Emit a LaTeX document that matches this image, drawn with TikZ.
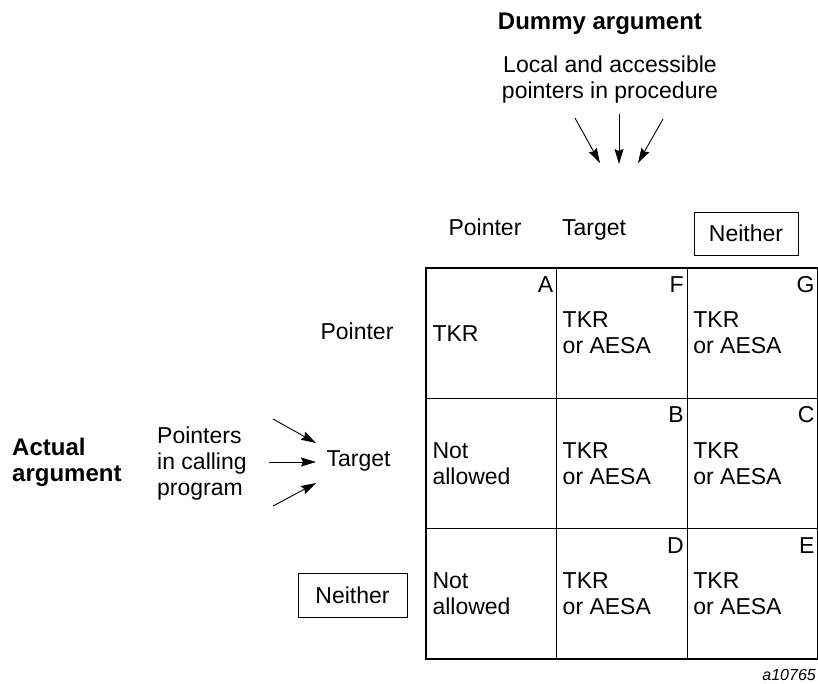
\documentclass[tikz,border=0pt]{standalone}
\usepackage{fontspec}
\setmainfont{Liberation Sans}
\usetikzlibrary{arrows.meta}
\begin{document}
\begin{tikzpicture}[x=1pt,y=-1pt,
  txt/.style={inner sep=0pt, font=\fontsize{23}{26}\selectfont, align=left},
  bold/.style={txt, font=\fontsize{24}{26}\selectfont\bfseries},
  cell/.style={draw, line width=1.3pt, minimum width=130.67pt, minimum height=130.33pt, inner sep=0pt},
  letter/.style={txt, anchor=north east},
  content/.style={txt, anchor=west},
  framed/.style={draw, line width=0.9pt, minimum width=104pt, minimum height=43pt, inner sep=0pt, font=\fontsize{23}{26}\selectfont},
  ptr/.style={line width=0.9pt, -{Stealth[length=15pt,width=9pt,inset=2pt]}}
]
\useasboundingbox (0,0) rectangle (818,683);

% column side: dummy argument
\node[bold, anchor=base] (dummy) at (600,29) {Dummy argument};
\node[txt, align=center] (localptr) at (610,80) {Local and accessible\\pointers in procedure};
\coordinate (d1s) at (575,118); \coordinate (d1e) at (600,163);
\coordinate (d2s) at (619,114); \coordinate (d2e) at (619,164);
\coordinate (d3s) at (663,119); \coordinate (d3e) at (638,163);
\draw[ptr] (d1s) -- (d1e);
\draw[ptr] (d2s) -- (d2e);
\draw[ptr] (d3s) -- (d3e);

\node[txt, anchor=base] (hdrptr) at (485,235) {Pointer};
\node[txt, anchor=base] (hdrtgt) at (594,235) {Target};
\node[framed] (hdrnei) at (746,233.5) {Neither};

% row side: actual argument
\node[bold, anchor=west] (actual) at (12,462) {Actual\\argument};
\node[txt, anchor=west] (callptr) at (157,464) {Pointers\\in calling\\program};
\coordinate (a1s) at (273,419); \coordinate (a1e) at (316,443);
\coordinate (a2s) at (269,462); \coordinate (a2e) at (316,462);
\coordinate (a3s) at (273,506); \coordinate (a3e) at (316,483);
\draw[ptr] (a1s) -- (a1e);
\draw[ptr] (a2s) -- (a2e);
\draw[ptr] (a3s) -- (a3e);

\node[txt, anchor=base] (rowptr) at (357,339) {Pointer};
\node[txt, anchor=base] (rowtgt) at (358.5,466) {Target};
\node[framed, minimum width=109pt, minimum height=44pt] (rownei) at (352.5,595) {Neither};

% the 3 x 3 table
\node[cell] (g11) at (491.33,333.17) {};
\node[cell] (g12) at (622.00,333.17) {};
\node[cell] (g13) at (752.67,333.17) {};
\node[cell] (g21) at (491.33,463.50) {};
\node[cell] (g22) at (622.00,463.50) {};
\node[cell] (g23) at (752.67,463.50) {};
\node[cell] (g31) at (491.33,593.83) {};
\node[cell] (g32) at (622.00,593.83) {};
\node[cell] (g33) at (752.67,593.83) {};

\node[letter] (la) at ([shift={(-4,9)}]g11.north east) {A};
\node[letter] (lf) at ([shift={(-4,9)}]g12.north east) {F};
\node[letter] (lg) at ([shift={(-4,9)}]g13.north east) {G};
\node[letter] (lb) at ([shift={(-4,9)}]g22.north east) {B};
\node[letter] (lc) at ([shift={(-4,9)}]g23.north east) {C};
\node[letter] (ld) at ([shift={(-4,9)}]g32.north east) {D};
\node[letter] (le) at ([shift={(-4,9)}]g33.north east) {E};

\node[content] (t11) at ([xshift=7]g11.west) {TKR};
\node[content] (t12) at ([xshift=6.5]g12.west) {TKR\\or AESA};
\node[content] (t13) at ([xshift=6.5]g13.west) {TKR\\or AESA};
\node[content] (t21) at ([xshift=7]g21.west) {Not\\allowed};
\node[content] (t22) at ([xshift=6.5]g22.west) {TKR\\or AESA};
\node[content] (t23) at ([xshift=6.5]g23.west) {TKR\\or AESA};
\node[content] (t31) at ([xshift=7]g31.west) {Not\\allowed};
\node[content] (t32) at ([xshift=6.5]g32.west) {TKR\\or AESA};
\node[content] (t33) at ([xshift=6.5]g33.west) {TKR\\or AESA};

\node[inner sep=0pt, anchor=base east, font=\fontsize{16}{18}\selectfont\itshape] (figid) at (816,680) {a10765};
\end{tikzpicture}
\end{document}
